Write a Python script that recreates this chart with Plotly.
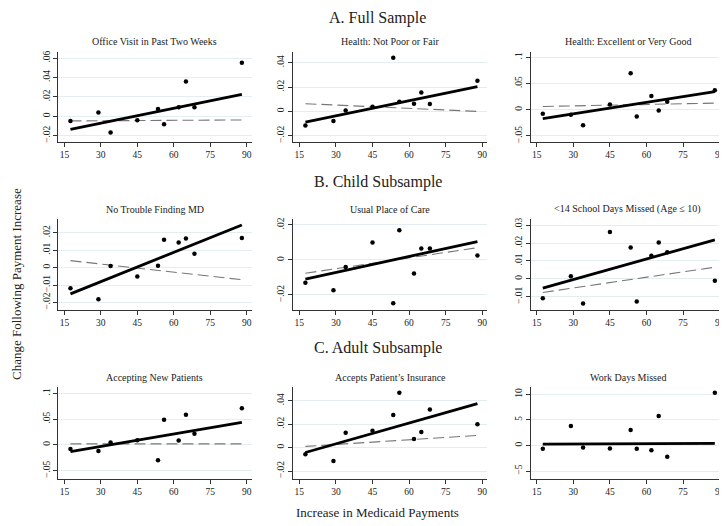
import plotly.graph_objects as go

W, H = 727, 526
OFF = 8  # page body margin of the browser; shift layout so marks land where the reference has them

# ---------------- data ----------------
payment_increase = [17.5, 29, 34, 45, 53.5, 56, 62, 65, 68.5, 88]
fit_x = [17.5, 88]

office_visit = [-0.0048, 0.0038, -0.0168, -0.0041, 0.0075, -0.0082, 0.0093, 0.0357, 0.0093, 0.0552]
office_visit_fit = [-0.0134, 0.0226]
office_visit_alt = [-0.0048, -0.0038]

health_not_poor = [-0.0115, -0.0079, 0.0008, 0.0038, 0.0441, 0.0079, 0.0063, 0.0156, 0.0060, 0.0252]
health_not_poor_fit = [-0.0088, 0.0203]
health_not_poor_alt = [0.0063, 0.0]

health_excellent = [-0.0076, -0.0095, -0.0297, 0.0101, 0.0696, -0.0127, 0.0260, -0.0013, 0.0152, 0.0373]
health_excellent_fit = [-0.0171, 0.0348]
health_excellent_alt = [0.0063, 0.0127]

no_trouble_md = [-0.0118, -0.0181, 0.0010, -0.0051, 0.0011, 0.0160, 0.0143, 0.0166, 0.0080, 0.0170]
no_trouble_md_fit = [-0.0150, 0.0244]
no_trouble_md_alt = [0.0040, -0.0069]

usual_place = [-0.0131, -0.0173, -0.0040, 0.0099, -0.0248, 0.0170, -0.0078, 0.0065, 0.0065, 0.0025]
usual_place_fit = [-0.0109, 0.0105]
usual_place_alt = [-0.0076, 0.0070]

school_days = [-0.0108, 0.0015, -0.0138, 0.0261, 0.0175, -0.0127, 0.0129, 0.0203, 0.0149, -0.0011]
school_days_fit = [-0.0052, 0.0218]
school_days_alt = [-0.0076, 0.0065]

new_patients = [-0.0078, -0.0117, 0.0045, 0.0090, -0.0299, 0.0487, 0.0084, 0.0584, 0.0214, 0.0710]
new_patients_fit = [-0.0130, 0.0435]
new_patients_alt = [0.0020, 0.0020]

accepts_insurance = [-0.0056, -0.0115, 0.0127, 0.0144, 0.0279, 0.0468, 0.0073, 0.0132, 0.0324, 0.0200]
accepts_insurance_fit = [-0.0042, 0.0375]
accepts_insurance_alt = [0.0010, 0.0104]

work_days = [-0.65, 3.79, -0.39, -0.59, 3.01, -0.65, -0.92, 5.75, -2.22, 10.3]
work_days_fit = [0.26, 0.39]
work_days_alt = [0.20, 0.30]

x_ticks = [15, 30, 45, 60, 75, 90]

panel_titles = ["Office Visit in Past Two Weeks", "Health: Not Poor or Fair", "Health: Excellent or Very Good",
                "No Trouble Finding MD", "Usual Place of Care", "<14 School Days Missed (Age \u2264 10)",
                "Accepting New Patients", "Accepts Patient\u2019s Insurance", "Work Days Missed"]
section_titles = ["A. Full Sample", "B. Child Subsample", "C. Adult Subsample"]

y_tickvals = [[-0.02, 0, 0.02, 0.04, 0.06], [-0.02, 0, 0.02, 0.04], [-0.05, 0, 0.05, 0.1],
              [-0.02, -0.01, 0, 0.01, 0.02], [-0.02, 0, 0.02], [-0.01, 0, 0.01, 0.02, 0.03],
              [-0.05, 0, 0.05, 0.1], [-0.02, 0, 0.02, 0.04], [-5, 0, 5, 10]]
y_ticktext = [["\u2212.02", "0", ".02", ".04", ".06"], ["\u2212.02", "0", ".02", ".04"], ["\u2212.05", "0", ".05", ".1"],
              ["\u2212.02", "\u2212.01", "0", ".01", ".02"], ["\u2212.02", "0", ".02"], ["\u2212.01", "0", ".01", ".02", ".03"],
              ["\u2212.05", "0", ".05", ".1"], ["\u2212.02", "0", ".02", ".04"], ["\u22125", "0", "5", "10"]]
y_ranges = [[-0.0262, 0.0665], [-0.0249, 0.049], [-0.0609, 0.1107],
            [-0.0242, 0.0278], [-0.0286, 0.0234], [-0.0174, 0.0334],
            [-0.0661, 0.1122], [-0.0268, 0.0517], [-6.56, 11.43]]

series = [office_visit, health_not_poor, health_excellent, no_trouble_md, usual_place, school_days,
          new_patients, accepts_insurance, work_days]
fits = [office_visit_fit, health_not_poor_fit, health_excellent_fit, no_trouble_md_fit, usual_place_fit,
        school_days_fit, new_patients_fit, accepts_insurance_fit, work_days_fit]
alts = [office_visit_alt, health_not_poor_alt, health_excellent_alt, no_trouble_md_alt, usual_place_alt,
        school_days_alt, new_patients_alt, accepts_insurance_alt, work_days_alt]

# ---------------- layout geometry (reference px) ----------------
col_px = [(58.3, 251.6), (293.2, 487.2), (530.6, 724.6)]
row_px = [(51.7, 141.7), (219.0, 310.0), (387.0, 479.0)]
FONT = "Liberation Serif, Times New Roman, serif"


def fx(px):
    return (px - OFF) / W


def fy(py):
    return 1 - (py - OFF) / H


fig = go.Figure()
layout = dict(
    width=W, height=H, paper_bgcolor="white", plot_bgcolor="white",
    margin=dict(l=0, r=0, t=0, b=0, autoexpand=False), showlegend=False,
    font=dict(family=FONT, color="#222"),
)
annotations = []

for i in range(9):
    r, c = divmod(i, 3)
    n = i + 1
    xa = "x" if n == 1 else f"x{n}"
    ya = "y" if n == 1 else f"y{n}"
    fig.add_trace(go.Scatter(x=fit_x, y=alts[i], mode="lines", xaxis=xa, yaxis=ya,
                             line=dict(color="#777777", width=1.1, dash="11px,5px")))
    fig.add_trace(go.Scatter(x=fit_x, y=fits[i], mode="lines", xaxis=xa, yaxis=ya,
                             line=dict(color="black", width=2.8)))
    fig.add_trace(go.Scatter(x=payment_increase, y=series[i], mode="markers", xaxis=xa, yaxis=ya,
                             marker=dict(color="black", size=4.5)))
    x0, x1 = col_px[c]
    y0, y1 = row_px[r]
    layout["xaxis" if n == 1 else f"xaxis{n}"] = dict(
        domain=[fx(x0), fx(x1)], range=[12.5, 92], anchor=ya,
        tickvals=x_ticks, ticks="outside", ticklen=4, tickcolor="#333", tickwidth=1,
        showline=True, linecolor="#333", linewidth=1, showgrid=False, zeroline=False,
        tickfont=dict(size=9.5, family=FONT, color="#222"),
    )
    layout["yaxis" if n == 1 else f"yaxis{n}"] = dict(
        domain=[fy(y1), fy(y0)], range=y_ranges[i], anchor=xa,
        tickvals=y_tickvals[i], ticktext=y_ticktext[i], tickangle=-90,
        ticks="outside", ticklen=4, tickcolor="#333", tickwidth=1,
        showline=True, linecolor="#333", linewidth=1,
        showgrid=True, gridcolor="#e4eef0", gridwidth=1, zeroline=False,
        tickfont=dict(size=9.5, family=FONT, color="#222"),
    )
    annotations.append(dict(text=panel_titles[i], x=fx((x0 + x1) / 2), y=fy(y0 - 10),
                            xref="paper", yref="paper", showarrow=False, xanchor="center",
                            yanchor="middle", font=dict(size=10, family=FONT, color="#222")))

section_y = [8, 182, 348]
section_anchor = ["top", "middle", "middle"]
for t, yy, ya_ in zip(section_titles, section_y, section_anchor):
    annotations.append(dict(text=t, x=fx(378), y=fy(yy), xref="paper", yref="paper",
                            showarrow=False, xanchor="center", yanchor=ya_, borderpad=0,
                            font=dict(size=16, family=FONT, color="#222")))

annotations.append(dict(text="Increase in Medicaid Payments", x=fx(378), y=fy(512),
                        xref="paper", yref="paper", showarrow=False, xanchor="center",
                        yanchor="middle", font=dict(size=13, family=FONT, color="#222")))
annotations.append(dict(text="Change Following Payment Increase", x=fx(16), y=fy(284),
                        xref="paper", yref="paper", showarrow=False, xanchor="center",
                        yanchor="middle", textangle=-90, font=dict(size=13, family=FONT, color="#222")))

layout["annotations"] = annotations
fig.update_layout(**layout)
fig.write_html("out.html")
